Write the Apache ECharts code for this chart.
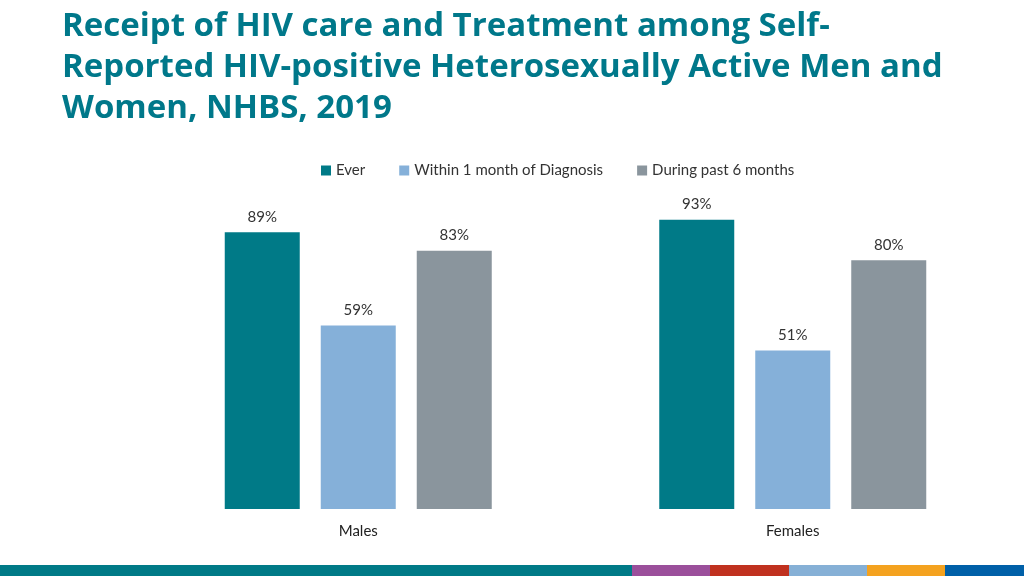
<!DOCTYPE html>
<html>
<head>
<meta charset="utf-8">
<script src="https://cdn.jsdelivr.net/npm/echarts@6/dist/echarts.min.js"></script>
<style>html,body{margin:0;padding:0;background:#fff}#c{width:1024px;height:576px}</style>
</head>
<body>
<div id="c"></div>
<script>
const categories = ['Males', 'Females'];
const seriesNames = ['Ever', 'Within 1 month of Diagnosis', 'During past 6 months'];
const ever = [89, 93];
const within1Month = [59, 51];
const past6Months = [83, 80];
const colors = ['#007a87', '#85b0d9', '#8a959d'];

const chart = echarts.init(document.getElementById('c'));
const font = 'Lato, "Open Sans", sans-serif';
const lbl = {show: true, position: 'top', formatter: '{c}%', color: '#333', fontSize: 15, fontFamily: font, distance: 8};
const stripe = [
  [0, 632, '#007a87'], [632, 78, '#9b4f9b'], [710, 79, '#c0311f'],
  [789, 78, '#86b0d6'], [867, 78, '#f4a21f'], [945, 79, '#0060a8']
];
chart.setOption({
  animation: false,
  title: {
    text: 'Receipt of HIV care and Treatment among Self-\nReported HIV-positive Heterosexually Active Men and\nWomen, NHBS, 2019',
    left: 57, top: 1,
    textStyle: {color: '#00788a', fontSize: 33, fontWeight: 'bold', fontFamily: '"Open Sans", sans-serif', lineHeight: 41}
  },
  legend: {
    top: 158, left: 316, itemWidth: 10, itemHeight: 10, itemGap: 34,
    icon: 'rect',
    textStyle: {color: '#333', fontSize: 15, fontFamily: font},
    data: seriesNames
  },
  grid: {left: 141, right: 14, top: 198, bottom: 67},
  xAxis: {
    type: 'category', data: categories,
    axisLine: {show: false}, axisTick: {show: false},
    axisLabel: {color: '#222', fontSize: 15, fontFamily: font, margin: 15}
  },
  yAxis: {type: 'value', min: 0, max: 100, show: false, splitLine: {show: false}},
  series: [
    {name: seriesNames[0], type: 'bar', data: ever, itemStyle: {color: colors[0]}, label: lbl, barWidth: 75, barGap: '28%'},
    {name: seriesNames[1], type: 'bar', data: within1Month, itemStyle: {color: colors[1]}, label: lbl, barWidth: 75, barGap: '28%'},
    {name: seriesNames[2], type: 'bar', data: past6Months, itemStyle: {color: colors[2]}, label: lbl, barWidth: 75, barGap: '28%'}
  ],
  graphic: stripe.map(s => ({type: 'rect', shape: {x: s[0], y: 565, width: s[1], height: 11}, style: {fill: s[2]}, silent: true}))
});
</script>
</body>
</html>
